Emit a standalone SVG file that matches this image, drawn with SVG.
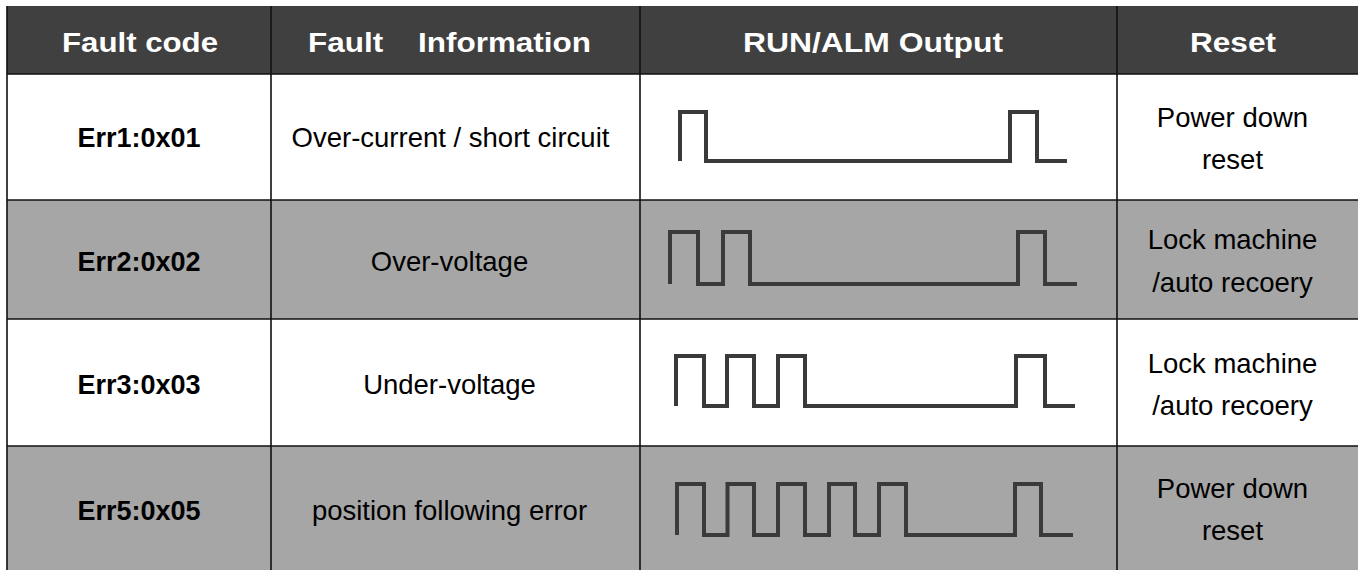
<svg xmlns="http://www.w3.org/2000/svg" width="1358" height="570" viewBox="0 0 1358 570">
<style>
.hd{fill:#404040}
.wh{fill:#ffffff}
.gr{fill:#a6a6a6}
.ht{font-family:"Liberation Sans",Arial,sans-serif;font-weight:bold;font-size:28px;fill:#ffffff;text-anchor:middle}
.bt{font-family:"Liberation Sans",Arial,sans-serif;font-weight:bold;font-size:27px;fill:#000000;text-anchor:middle}
.nt{font-family:"Liberation Sans",Arial,sans-serif;font-size:27.5px;fill:#000000;text-anchor:middle}
.grid{stroke:#111111;stroke-width:1.6;fill:none}
.wave{stroke:#3a3a3a;stroke-width:4;fill:none;stroke-linejoin:miter;stroke-linecap:butt}
</style>
<rect x="0" y="0" width="1358" height="570" fill="#ffffff"/>
<g id="header">
  <rect class="hd" x="7" y="6" width="1351" height="68"/>
  <text class="ht" x="140" y="52" textLength="156" lengthAdjust="spacingAndGlyphs">Fault code</text>
  <text class="ht" x="449.5" y="52" textLength="283" lengthAdjust="spacingAndGlyphs" style="white-space:pre">Fault    Information</text>
  <text class="ht" x="873" y="52" textLength="260" lengthAdjust="spacingAndGlyphs">RUN/ALM Output</text>
  <text class="ht" x="1233" y="52" textLength="86" lengthAdjust="spacingAndGlyphs">Reset</text>
</g>
<g id="row-err1">
  <rect class="wh" x="7" y="74" width="1351" height="126"/>
  <text class="bt" x="139" y="147">Err1:0x01</text>
  <text class="nt" x="450.5" y="147">Over-current / short circuit</text>
  <path class="wave" d="M680,161 V112 H706 V161 H1010 V112 H1037 V161 H1067"/>
  <text class="nt" x="1232.5" y="127">Power down</text>
  <text class="nt" x="1232.5" y="169">reset</text>
</g>
<g id="row-err2">
  <rect class="gr" x="7" y="200" width="1351" height="119"/>
  <text class="bt" x="139" y="271">Err2:0x02</text>
  <text class="nt" x="449.5" y="271">Over-voltage</text>
  <path class="wave" d="M670,284 V232 H698 V284 H723 V232 H750 V284 H1018 V232 H1045 V284 H1077"/>
  <text class="nt" x="1232.5" y="249">Lock machine</text>
  <text class="nt" x="1232.5" y="292">/auto recoery</text>
</g>
<g id="row-err3">
  <rect class="wh" x="7" y="319" width="1351" height="127"/>
  <text class="bt" x="139" y="393.5">Err3:0x03</text>
  <text class="nt" x="449.5" y="393.5">Under-voltage</text>
  <path class="wave" d="M676,406 V356 H704 V406 H727 V356 H754 V406 H778 V356 H805 V406 H1016 V356 H1045 V406 H1075"/>
  <text class="nt" x="1232.5" y="372.5">Lock machine</text>
  <text class="nt" x="1232.5" y="414.5">/auto recoery</text>
</g>
<g id="row-err5">
  <rect class="gr" x="7" y="446" width="1351" height="124"/>
  <text class="bt" x="139" y="520">Err5:0x05</text>
  <text class="nt" x="449.5" y="520">position following error</text>
  <path class="wave" d="M677,535 V484 H704 V535 H727.5 V484 H754 V535 H778 V484 H805 V535 H829 V484 H855 V535 H879 V484 H906 V535 H1015 V484 H1041 V535 H1073"/>
  <text class="nt" x="1232.5" y="498">Power down</text>
  <text class="nt" x="1232.5" y="540">reset</text>
</g>
<g id="grid">
  <path class="grid" d="M7,6 V570 M271,6 V570 M640,6 V570 M1117,6 V570"/>
  <path class="grid" d="M7,74 H1358 M7,200 H1358 M7,319 H1358 M7,446 H1358"/>
</g>
</svg>
